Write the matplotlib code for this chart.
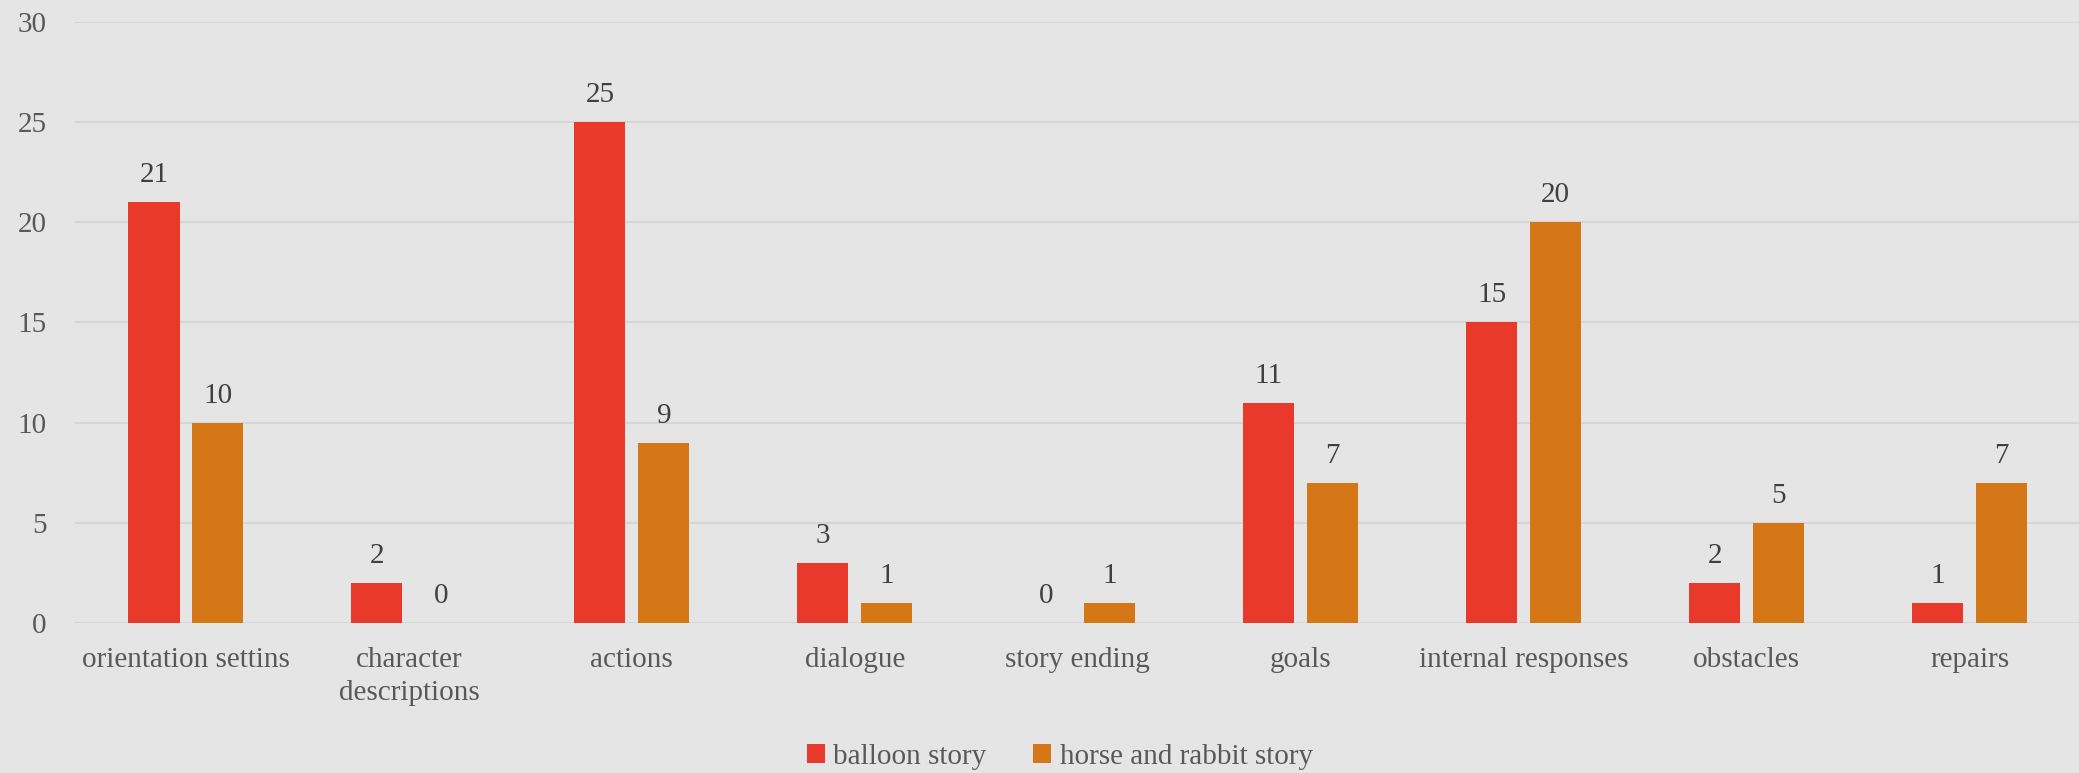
import matplotlib
matplotlib.use("Agg")
import matplotlib.pyplot as plt
import numpy as np

categories = ["orientation settins", "character\ndescriptions", "actions", "dialogue",
              "story ending", "goals", "internal responses", "obstacles", "repairs"]
balloon = [21, 2, 25, 3, 0, 11, 15, 2, 1]
horse_rabbit = [10, 0, 9, 1, 1, 7, 20, 5, 7]
series_names = ["balloon story", "horse and rabbit story"]
yticks = [0, 5, 10, 15, 20, 25, 30]

bg = "#E5E5E5"
red = "#E8392B"
orange = "#D57717"
text_col = "#595959"
font = ["Liberation Serif", "DejaVu Serif"]
plt.rcParams['font.family'] = font

fig = plt.figure(figsize=(20.79, 7.73), dpi=100)
fig.patch.set_facecolor(bg)
ax = fig.add_axes([74.5 / 2079, 150 / 773, 2006.5 / 2079, 601.3 / 773])
ax.set_facecolor(bg)

x = np.arange(len(categories))
w = 0.229
off = 0.1435
b1 = ax.bar(x - off, balloon, w, color=red, label=series_names[0], zorder=3)
b2 = ax.bar(x + off, horse_rabbit, w, color=orange, label=series_names[1], zorder=3)

for bars, vals in ((b1, balloon), (b2, horse_rabbit)):
    for rect, v in zip(bars, vals):
        ax.annotate(str(v), (rect.get_x() + rect.get_width() / 2, v),
                    xytext=(0, 10), textcoords="offset points",
                    ha="center", va="bottom", fontsize=21, color="#404040")

ax.set_xlim(-0.5, len(categories) - 0.5)
ax.set_ylim(0, 30)
ax.set_yticks(yticks)
ax.set_yticklabels([str(t) for t in yticks], fontsize=21, color=text_col)
ax.set_xticks(x)
ax.set_xticklabels(categories, fontsize=21, color=text_col, linespacing=1.35)
ax.tick_params(axis="both", length=0)
ax.tick_params(axis="y", pad=20)
ax.tick_params(axis="x", pad=17)
ax.yaxis.grid(True, color="#D6D6D6", linewidth=1.5, zorder=0)
ax.set_axisbelow(True)
for s in ax.spines.values():
    s.set_visible(False)

leg = fig.legend(handles=[b1, b2], labels=series_names, loc="center",
                 bbox_to_anchor=(1060 / 2079, 1 - 757 / 773), ncol=2, frameon=False,
                 fontsize=21, handlelength=0.6, handleheight=0.6, handletextpad=0.3,
                 columnspacing=1.6)
for t in leg.get_texts():
    t.set_color(text_col)

fig.savefig("out.png", dpi=100, facecolor=bg)
